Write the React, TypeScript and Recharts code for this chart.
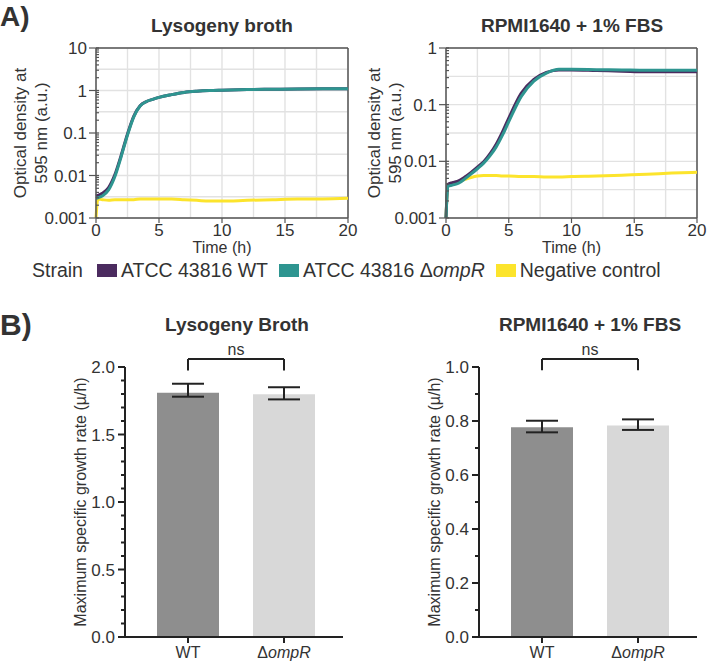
import React from "react";
import {
  LineChart,
  Line,
  XAxis,
  YAxis,
  CartesianGrid,
  ReferenceLine,
  BarChart,
  Bar,
  Cell,
  ErrorBar,
} from "recharts";

const FONT = "'Liberation Sans', Arial, Helvetica, sans-serif";
const INK = "#333333";
const AXIS = "#555555";

// growth curves (OD595, log scale), sampled from the plate reader traces
const TIME = [0, 0.15, 0.5, 1, 1.5, 2, 2.5, 3, 3.5, 4, 4.5, 5, 6, 7, 8, 9, 10, 12, 14, 16, 18, 20];

const LB_WT = [0.0033, 0.0034, 0.0038, 0.0052, 0.0105, 0.03, 0.095, 0.25, 0.44, 0.55, 0.62, 0.69, 0.8, 0.9, 0.96, 1.0, 1.02, 1.05, 1.07, 1.09, 1.1, 1.1];
const LB_OMPR = [0.0029, 0.003, 0.0033, 0.0046, 0.0095, 0.028, 0.09, 0.24, 0.43, 0.55, 0.62, 0.69, 0.8, 0.9, 0.96, 1.0, 1.02, 1.05, 1.07, 1.09, 1.1, 1.1];
const LB_NEG = [0.001, 0.0028, 0.0027, 0.0026, 0.0027, 0.0027, 0.0027, 0.0027, 0.0028, 0.0028, 0.0028, 0.0028, 0.0028, 0.0027, 0.0026, 0.0025, 0.0025, 0.0026, 0.0027, 0.0028, 0.0028, 0.0029];

const RPMI_WT = [0.001, 0.0039, 0.0042, 0.0045, 0.0053, 0.0064, 0.0079, 0.0098, 0.0135, 0.02, 0.033, 0.058, 0.16, 0.28, 0.37, 0.41, 0.41, 0.4, 0.39, 0.38, 0.38, 0.38];
const RPMI_OMPR = [0.001, 0.0036, 0.0038, 0.0041, 0.0049, 0.006, 0.0074, 0.0093, 0.0125, 0.018, 0.029, 0.05, 0.14, 0.26, 0.36, 0.42, 0.42, 0.415, 0.41, 0.405, 0.405, 0.405];
const RPMI_NEG = [0.001, 0.0038, 0.0041, 0.0044, 0.0048, 0.0052, 0.0055, 0.0056, 0.0056, 0.0056, 0.0055, 0.0055, 0.0054, 0.0054, 0.0053, 0.0053, 0.0054, 0.0055, 0.0057, 0.0059, 0.0062, 0.0064];

const TIME_TICKS = [0, 5, 10, 15, 20];
const TIME_GRID = [0, 2.5, 5, 7.5, 10, 12.5, 15, 17.5, 20];
const LB_DECADES = [0.001, 0.01, 0.1, 1, 10];
const RPMI_DECADES = [0.001, 0.01, 0.1, 1];

const STRAINS = ["ATCC 43816 WT", "ATCC 43816 ΔompR", "Negative control"];
const STRAIN_COLORS = ["#4b2b5f", "#2e9590", "#fce42c"];

// maximum specific growth rate (µ/h), mean with [minus, plus] error
const GROUPS = ["WT", "ΔompR"];
const GROUP_COLORS = ["#8e8e8e", "#d8d8d8"];
const LB_RATE = [1.81, 1.798];
const LB_RATE_ERR = [[0.03, 0.066], [0.038, 0.052]];
const RPMI_RATE = [0.777, 0.783];
const RPMI_RATE_ERR = [[0.019, 0.024], [0.016, 0.023]];

const LB_RATE_MAJOR = [0, 0.5, 1, 1.5, 2];
const LB_RATE_TICKS = [0, 0.1, 0.2, 0.3, 0.4, 0.5, 0.6, 0.7, 0.8, 0.9, 1, 1.1, 1.2, 1.3, 1.4, 1.5, 1.6, 1.7, 1.8, 1.9, 2];
const RPMI_RATE_MAJOR = [0, 0.2, 0.4, 0.6, 0.8, 1];
const RPMI_RATE_TICKS = [0, 0.1, 0.2, 0.3, 0.4, 0.5, 0.6, 0.7, 0.8, 0.9, 1];

const withMinors = (decades: number[]) => {
  const out: number[] = [];
  decades.forEach((d, i) => {
    out.push(d);
    if (i < decades.length - 1) for (let m = 2; m <= 9; m++) out.push(d * m);
  });
  return out;
};

const halfDecades = (decades: number[]) => {
  const out: number[] = [];
  decades.forEach((d, i) => {
    out.push(d);
    if (i < decades.length - 1) out.push(d * Math.sqrt(10));
  });
  return out;
};

const curveRows = (wt: number[], ompr: number[], neg: number[]) =>
  TIME.map((t, i) => ({ t, wt: wt[i], ompr: ompr[i], neg: neg[i] }));

const rateRows = (vals: number[], errs: number[][]) =>
  GROUPS.map((g, i) => ({ group: g, rate: vals[i], err: errs[i] }));

// log axis: long ticks + label on decades, short inner ticks between
const LogTick = (props: any) => {
  const { x, y, payload, majors } = props;
  const v = payload.value;
  const major = majors.includes(v);
  return (
    <g>
      <line x1={x - (major ? 7 : 0)} x2={x + 3} y1={y} y2={y} stroke={AXIS} strokeWidth={1.2} />
      {major && (
        <text x={x - 9} y={y} dy="0.36em" textAnchor="end" fontSize={17} fill={INK} fontFamily={FONT}>
          {String(v)}
        </text>
      )}
    </g>
  );
};

const RateTick = (props: any) => {
  const { x, y, payload, majors } = props;
  const v = payload.value;
  const major = majors.includes(v);
  return (
    <g>
      <line x1={x - (major ? 7 : 4)} x2={x} y1={y} y2={y} stroke="#222" strokeWidth={2} />
      {major && (
        <text x={x - 10} y={y} dy="0.36em" textAnchor="end" fontSize={17} fill={INK} fontFamily={FONT}>
          {v.toFixed(1)}
        </text>
      )}
    </g>
  );
};

const GroupTick = (props: any) => {
  const { x, y, payload } = props;
  const v: string = payload.value;
  const mutant = v.startsWith("Δ");
  return (
    <text x={x} y={y} dy="0.72em" textAnchor="middle" fontSize={16} fill={INK} fontFamily={FONT}>
      {mutant ? (
        <>
          <tspan>Δ</tspan>
          <tspan fontStyle="italic">{v.slice(1)}</tspan>
        </>
      ) : (
        v
      )}
    </text>
  );
};

const OdLabel = (props: any) => {
  const { viewBox } = props;
  const cy = viewBox.y + viewBox.height / 2;
  const lines = ["Optical density at", "595 nm (a.u.)"];
  const xs = [viewBox.x + 20, viewBox.x + 41];
  return (
    <g>
      {lines.map((l, i) => (
        <text
          key={l}
          x={xs[i]}
          y={cy}
          transform={`rotate(-90 ${xs[i]} ${cy})`}
          textAnchor="middle"
          dominantBaseline="central"
          fontSize={17}
          fill={INK}
          fontFamily={FONT}
        >
          {l}
        </text>
      ))}
    </g>
  );
};

const RateLabel = (props: any) => {
  const { viewBox } = props;
  const cx = viewBox.x + 80;
  const cy = viewBox.y + viewBox.height / 2;
  return (
    <text
      x={cx}
      y={cy}
      transform={`rotate(-90 ${cx} ${cy})`}
      textAnchor="middle"
      dominantBaseline="central"
      fontSize={16}
      fill={INK}
      fontFamily={FONT}
    >
      Maximum specific growth rate (µ/h)
    </text>
  );
};

function GrowthPanel({
  left,
  width,
  yWidth,
  right,
  decades,
  wt,
  ompr,
  neg,
}: {
  left: number;
  width: number;
  yWidth: number;
  right: number;
  decades: number[];
  wt: number[];
  ompr: number[];
  neg: number[];
}) {
  const data = curveRows(wt, ompr, neg);
  const top = decades[decades.length - 1];
  return (
    <div style={{ position: "absolute", left, top: 0 }}>
      <LineChart width={width} height={258} data={data} margin={{ top: 48, right, left: 0, bottom: 0 }}>
        <CartesianGrid
          stroke="#e2e2e2"
          strokeWidth={1.4}
          horizontalValues={halfDecades(decades)}
          verticalValues={TIME_GRID}
        />
        <XAxis
          dataKey="t"
          type="number"
          domain={[0, 20]}
          ticks={TIME_TICKS}
          interval={0}
          height={40}
          tickSize={5}
          tickMargin={1}
          axisLine={{ stroke: AXIS, strokeWidth: 1.5 }}
          tickLine={{ stroke: AXIS, strokeWidth: 1.2 }}
          tick={{ fill: INK, fontSize: 17, fontFamily: FONT }}
          label={{ value: "Time (h)", position: "insideBottom", offset: 5, fill: INK, fontSize: 16, fontFamily: FONT }}
        />
        <YAxis
          type="number"
          scale="log"
          domain={[decades[0], top]}
          ticks={withMinors(decades)}
          interval={0}
          width={yWidth}
          tickSize={0}
          tickMargin={0}
          tickLine={false}
          axisLine={{ stroke: AXIS, strokeWidth: 1.5 }}
          tick={(p: any) => <LogTick {...p} majors={decades} />}
          label={<OdLabel />}
        />
        <ReferenceLine y={top} stroke={AXIS} strokeWidth={1.5} />
        <ReferenceLine x={20} stroke={AXIS} strokeWidth={1.5} />
        <Line dataKey="neg" type="monotone" stroke={STRAIN_COLORS[2]} strokeWidth={3} dot={false} isAnimationActive={false} />
        <Line dataKey="wt" type="monotone" stroke={STRAIN_COLORS[0]} strokeWidth={3} dot={false} isAnimationActive={false} />
        <Line dataKey="ompr" type="monotone" stroke={STRAIN_COLORS[1]} strokeWidth={3} dot={false} isAnimationActive={false} />
      </LineChart>
    </div>
  );
}

function RatePanel({
  left,
  vals,
  errs,
  ticks,
  majors,
  bracketTop,
  bracketFoot,
}: {
  left: number;
  vals: number[];
  errs: number[][];
  ticks: number[];
  majors: number[];
  bracketTop: number;
  bracketFoot: number;
}) {
  const data = rateRows(vals, errs);
  const line = { stroke: "#222", strokeWidth: 2, ifOverflow: "visible" as const };
  return (
    <div style={{ position: "absolute", left, top: 290 }}>
      <BarChart width={354} height={374} data={data} margin={{ top: 77, right: 11, left: 0, bottom: 0 }}>
        <XAxis
          dataKey="group"
          height={27}
          padding={{ left: 15, right: 11 }}
          tickSize={6}
          tickMargin={3}
          axisLine={{ stroke: "#222", strokeWidth: 2 }}
          tickLine={{ stroke: "#222", strokeWidth: 2 }}
          tick={<GroupTick />}
        />
        <YAxis
          type="number"
          domain={[0, majors[majors.length - 1]]}
          ticks={ticks}
          interval={0}
          width={125}
          tickSize={0}
          tickMargin={0}
          tickLine={false}
          axisLine={{ stroke: "#222", strokeWidth: 2 }}
          tick={(p: any) => <RateTick {...p} majors={majors} />}
          label={<RateLabel />}
        />
        <Bar dataKey="rate" barSize={62} isAnimationActive={false}>
          {data.map((d, i) => (
            <Cell key={d.group} fill={GROUP_COLORS[i]} />
          ))}
          <ErrorBar dataKey="err" width={16} stroke="#222" strokeWidth={2} />
        </Bar>
        <ReferenceLine
          {...line}
          segment={[
            { x: GROUPS[0], y: bracketTop },
            { x: GROUPS[1], y: bracketTop },
          ]}
          label={{ value: "ns", position: "top", offset: 4, fill: INK, fontSize: 16, fontFamily: FONT }}
        />
        <ReferenceLine
          {...line}
          segment={[
            { x: GROUPS[0], y: bracketTop },
            { x: GROUPS[0], y: bracketFoot },
          ]}
        />
        <ReferenceLine
          {...line}
          segment={[
            { x: GROUPS[1], y: bracketTop },
            { x: GROUPS[1], y: bracketFoot },
          ]}
        />
      </BarChart>
    </div>
  );
}

function StrainName({ name }: { name: string }) {
  const i = name.indexOf("Δ");
  if (i < 0) return <span>{name}</span>;
  return (
    <span>
      {name.slice(0, i + 1)}
      <i>{name.slice(i + 1)}</i>
    </span>
  );
}

export default function App() {
  const title = { fontFamily: FONT, fontWeight: 700, fontSize: 19, fill: INK } as const;
  return (
    <div style={{ position: "absolute", left: 0, top: 0, width: 708, height: 664, background: "#fff", fontFamily: FONT }}>
      <GrowthPanel left={0} width={372} yWidth={96} right={24} decades={LB_DECADES} wt={LB_WT} ompr={LB_OMPR} neg={LB_NEG} />
      <GrowthPanel left={354} width={354} yWidth={92} right={11} decades={RPMI_DECADES} wt={RPMI_WT} ompr={RPMI_OMPR} neg={RPMI_NEG} />
      <RatePanel
        left={0}
        vals={LB_RATE}
        errs={LB_RATE_ERR}
        ticks={LB_RATE_TICKS}
        majors={LB_RATE_MAJOR}
        bracketTop={2.06}
        bracketFoot={1.975}
      />
      <RatePanel
        left={354}
        vals={RPMI_RATE}
        errs={RPMI_RATE_ERR}
        ticks={RPMI_RATE_TICKS}
        majors={RPMI_RATE_MAJOR}
        bracketTop={1.03}
        bracketFoot={0.988}
      />

      <svg width={708} height={664} style={{ position: "absolute", left: 0, top: 0, pointerEvents: "none" }}>
        <text x={0} y={25.5} fontFamily={FONT} fontWeight={700} fontSize={28} fill={INK}>A)</text>
        <text x={0} y={335} fontFamily={FONT} fontWeight={700} fontSize={30} fill={INK}>B)</text>
        <text x={222} y={32} textAnchor="middle" {...title}>Lysogeny broth</text>
        <text x={572} y={32} textAnchor="middle" {...title}>RPMI1640 + 1% FBS</text>
        <text x={237} y={331} textAnchor="middle" {...title}>Lysogeny Broth</text>
        <text x={590} y={331} textAnchor="middle" {...title}>RPMI1640 + 1% FBS</text>
      </svg>

      <div
        style={{
          position: "absolute",
          left: 32,
          top: 261,
          display: "flex",
          alignItems: "center",
          fontSize: 19.5,
          lineHeight: "19px",
          color: INK,
          whiteSpace: "nowrap",
        }}
      >
        <span style={{ marginRight: 14 }}>Strain</span>
        {STRAINS.map((s, i) => (
          <span key={s} style={{ display: "flex", alignItems: "center", marginRight: 11 }}>
            <span style={{ width: 20, height: 13, background: STRAIN_COLORS[i], marginRight: 4, display: "inline-block" }} />
            <StrainName name={s} />
          </span>
        ))}
      </div>
    </div>
  );
}
